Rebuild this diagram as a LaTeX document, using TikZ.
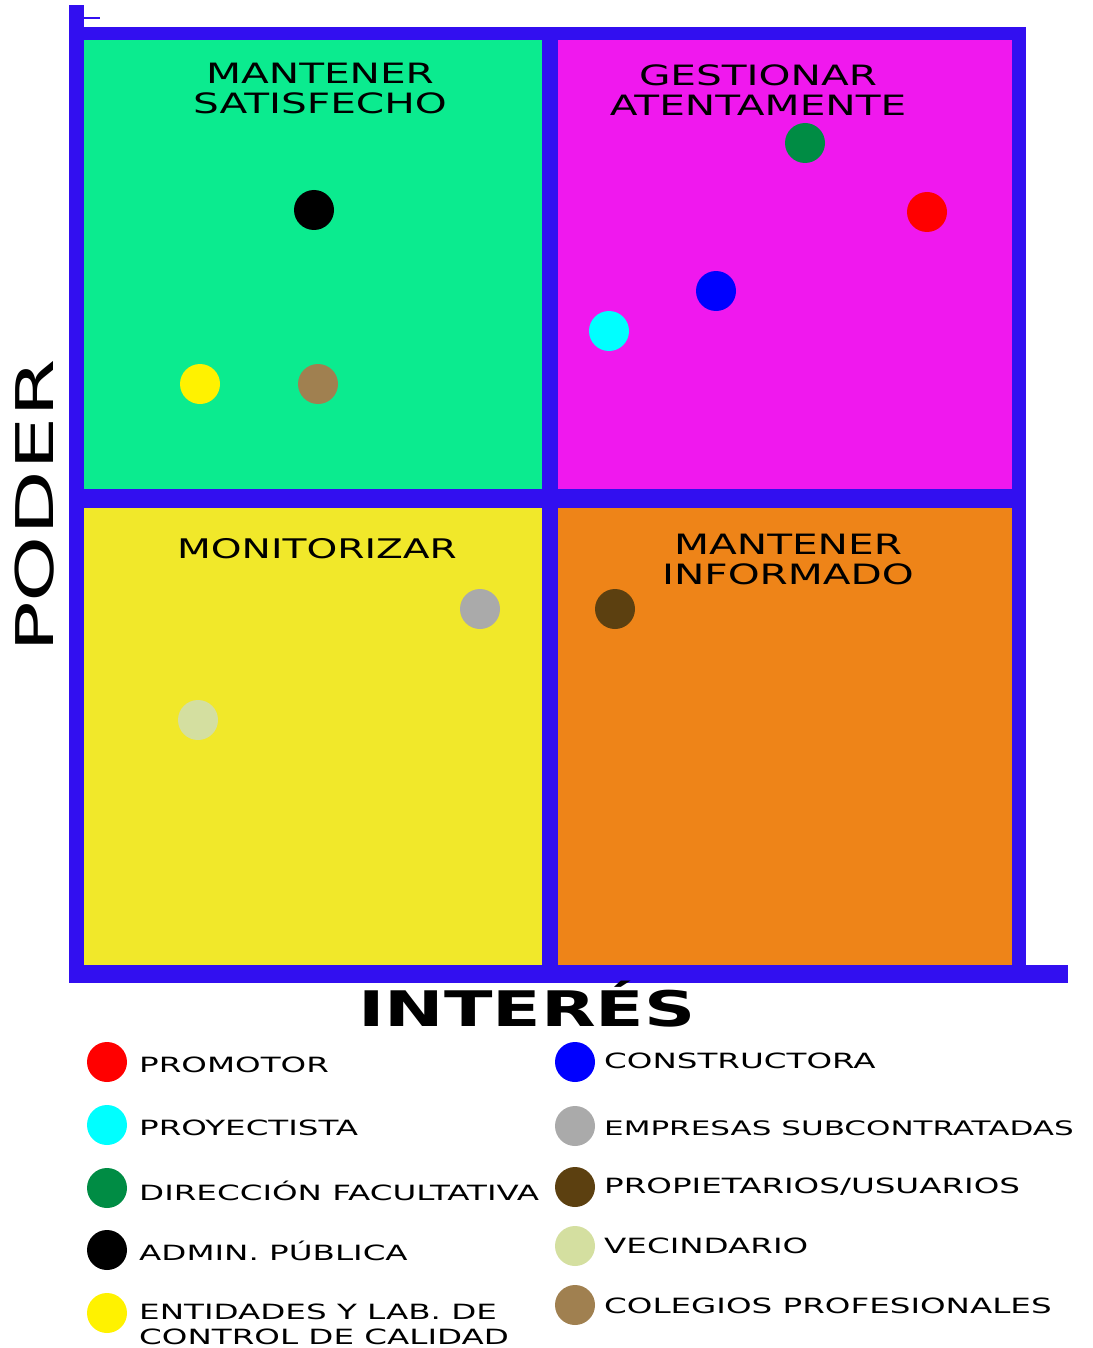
\documentclass[tikz,border=0pt]{standalone}
\usepackage{fontspec}
\newfontfamily\wf[FakeStretch=1.45]{DejaVu Sans}
\newfontfamily\wfl[FakeStretch=1.55]{DejaVu Sans}
\newfontfamily\wfp[FakeStretch=1.62]{DejaVu Sans}
\newfontfamily\wfb[FakeStretch=1.45]{DejaVu Sans Bold}
\definecolor{frameblue}{RGB}{50,15,240}
\definecolor{qgreen}{RGB}{11,235,143}
\definecolor{qmag}{RGB}{240,24,238}
\definecolor{qyellow}{RGB}{241,232,42}
\definecolor{qorange}{RGB}{238,132,24}
\definecolor{cred}{RGB}{255,0,0}
\definecolor{ccyan}{RGB}{0,255,255}
\definecolor{cgreen}{RGB}{0,140,68}
\definecolor{cblue}{RGB}{0,0,255}
\definecolor{cgray}{RGB}{170,170,170}
\definecolor{cdbrown}{RGB}{92,64,16}
\definecolor{cpale}{RGB}{212,223,160}
\definecolor{clbrown}{RGB}{160,128,80}
\begin{document}
\begin{tikzpicture}[x=1pt,y=-1pt,
  dot/.style={circle,inner sep=0pt,minimum size=40pt,draw=none},
  qtitle/.style={font=\wf\fontsize{28}{30}\selectfont,align=center,text=black},
  legtext/.style={font=\wfl\fontsize{21}{25}\selectfont,anchor=west,align=left,inner sep=0pt,text=black}]
\useasboundingbox (0,0) rectangle (1092,1348);
\fill[white] (0,0) rectangle (1092,1348);
% frame
\fill[frameblue] (69,27) rectangle (1026,983);
\fill[frameblue] (69,5) rectangle (84,27);
\fill[frameblue] (1026,965) rectangle (1068,983);
\fill[frameblue] (83,17) rectangle (100,19.5);
% quadrants
\fill[qgreen] (84,40) rectangle (542,489);
\fill[qmag] (558,40) rectangle (1012,489);
\fill[qyellow] (84,508) rectangle (542,965);
\fill[qorange] (558,508) rectangle (1012,965);
% titles
\node[qtitle] (tsat) at (320,88) {MANTENER\\SATISFECHO};
\node[qtitle] (tgest) at (758,90) {GESTIONAR\\ATENTAMENTE};
\node[qtitle,font=\wf\fontsize{27}{30}\selectfont] (tmon) at (317,549) {MONITORIZAR};
\node[qtitle] (tinf) at (788,559) {MANTENER\\INFORMADO};
% axes labels
\node[font=\wfp\fontsize{52}{52}\selectfont,rotate=90] (poder) at (35,506) {PODER};
\node[font=\wfb\fontsize{49}{49}\selectfont] (interes) at (527,1004) {INTERÉS};
% dots in matrix
\node[dot,fill=black] (d-admin) at (314,210) {};
\node[dot,fill=yellow] (d-ent) at (200,384) {};
\node[dot,fill=clbrown] (d-col) at (318,384) {};
\node[dot,fill=cgreen] (d-dir) at (805,143) {};
\node[dot,fill=cred] (d-prom) at (927,212) {};
\node[dot,fill=cblue] (d-cons) at (716,291) {};
\node[dot,fill=ccyan] (d-proy) at (609,331) {};
\node[dot,fill=cgray] (d-emp) at (480,609) {};
\node[dot,fill=cpale] (d-vec) at (198,720) {};
\node[dot,fill=cdbrown] (d-prop) at (615,609) {};
% legend left
\node[dot,fill=cred] (l-prom) at (107,1062) {};
\node[legtext] (t-prom) at (139,1065) {PROMOTOR};
\node[dot,fill=ccyan] (l-proy) at (107,1125) {};
\node[legtext] (t-proy) at (139,1128) {PROYECTISTA};
\node[dot,fill=cgreen] (l-dir) at (107,1188) {};
\node[legtext] (t-dir) at (139,1191) {DIRECCIÓN FACULTATIVA};
\node[dot,fill=black] (l-admin) at (107,1250) {};
\node[legtext] (t-admin) at (139,1251) {ADMIN. PÚBLICA};
\node[dot,fill=yellow] (l-ent) at (107,1313) {};
\node[legtext] (t-ent) at (139,1324) {ENTIDADES Y LAB. DE\\CONTROL DE CALIDAD};
% legend right
\node[dot,fill=cblue] (l-cons) at (575,1062) {};
\node[legtext] (t-cons) at (604,1061) {CONSTRUCTORA};
\node[dot,fill=cgray] (l-emp) at (575,1126) {};
\node[legtext,font=\wfl\fontsize{20}{25}\selectfont] (t-emp) at (604,1128) {EMPRESAS SUBCONTRATADAS};
\node[dot,fill=cdbrown] (l-prop) at (575,1187) {};
\node[legtext] (t-prop) at (604,1187) {PROPIETARIOS/USUARIOS};
\node[dot,fill=cpale] (l-vec) at (575,1246) {};
\node[legtext] (t-vec) at (604,1246) {VECINDARIO};
\node[dot,fill=clbrown] (l-col) at (575,1305) {};
\node[legtext] (t-col) at (604,1306) {COLEGIOS PROFESIONALES};
\end{tikzpicture}
\end{document}
